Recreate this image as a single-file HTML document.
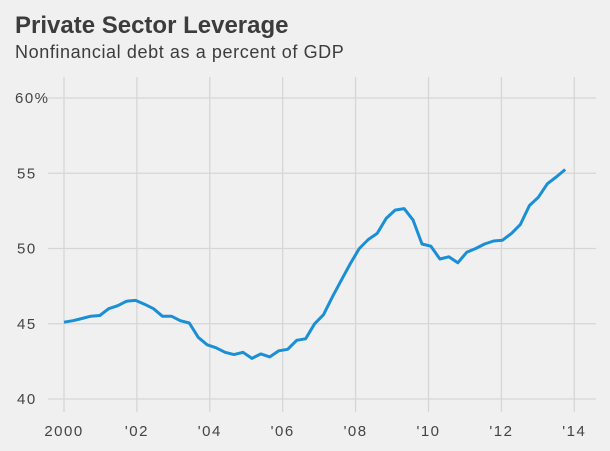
<!DOCTYPE html>
<html><head><meta charset="utf-8"><style>
html,body{margin:0;padding:0;background:#f0f0f0;}
body{width:610px;height:446px;overflow:hidden;font-family:"Liberation Sans",sans-serif;}
</style></head><body>
<svg id="c" width="610" height="446" xmlns="http://www.w3.org/2000/svg">
<rect width="610" height="446" fill="#f0f0f0"/>
<text x="15" y="33" font-size="24" font-weight="bold" fill="#3c3c3c" font-family="Liberation Sans, sans-serif">Private Sector Leverage</text>
<text x="15" y="58" font-size="18" letter-spacing="0.6" fill="#3c3c3c" font-family="Liberation Sans, sans-serif">Nonfinancial debt as a percent of GDP</text>
<g id="grid" stroke="#d6d6d6" stroke-width="1.3"></g>
<g id="lbl" font-family="Liberation Sans Narrow, Liberation Sans, sans-serif" font-size="15" letter-spacing="1.5" fill="#444"></g>
<polyline id="ln" fill="none" stroke="#1a8fd6" stroke-width="3" stroke-linejoin="round"/>
</svg>
<script>
var X=function(y){return 64+(y-2000)*36.45},Y=function(v){return 399-(v-40)*15.05};
var g=document.getElementById('grid'),l=document.getElementById('lbl'),ns='http://www.w3.org/2000/svg';
function el(p,t,a,txt){var e=document.createElementNS(ns,t);for(var k in a)e.setAttribute(k,a[k]);if(txt)e.textContent=txt;p.appendChild(e);}
for(var yr=2000;yr<=2014;yr+=2){el(g,'line',{x1:X(yr),x2:X(yr),y1:77,y2:412});
el(l,'text',{x:X(yr),y:436,'text-anchor':'middle'},yr==2000?'2000':"'"+String(yr).slice(2));}
for(var v=40;v<=60;v+=5){el(g,'line',{x1:48,x2:596,y1:Y(v),y2:Y(v)});
el(l,'text',{x:v==60?15:17,y:Y(v)+5},v==60?'60%':String(v));}
var d=[45.1,45.2,45.35,45.5,45.55,46.0,46.2,46.5,46.55,46.3,46.0,45.5,45.5,45.2,45.05,44.1,43.6,43.4,43.1,42.95,43.1,42.7,43.0,42.8,43.2,43.3,43.9,44.0,45.0,45.6,46.8,47.9,49.0,50.0,50.6,51.0,52.0,52.55,52.65,51.9,50.3,50.15,49.3,49.45,49.05,49.75,50.0,50.3,50.5,50.55,51.0,51.6,52.85,53.4,54.3,54.75,55.25];
var n=d.length-1;
var p=d.map(function(v,i){return X(2000+i*13.75/n).toFixed(1)+','+Y(v).toFixed(1)}).join(' ');
document.getElementById('ln').setAttribute('points',p);
</script>
</body></html>
